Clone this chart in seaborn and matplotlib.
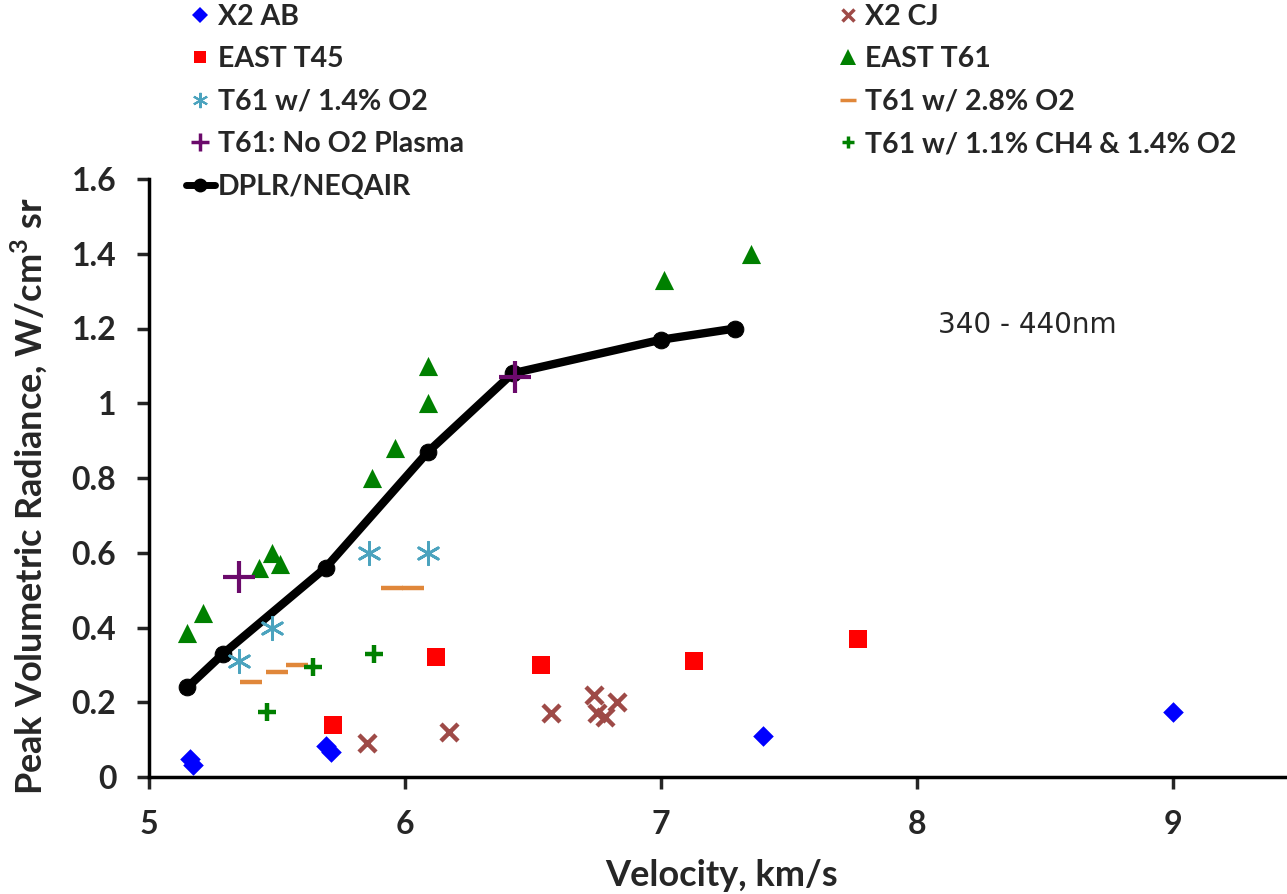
import matplotlib
matplotlib.use("Agg")
import matplotlib.pyplot as plt
import seaborn as sns
import numpy as np
from matplotlib.lines import Line2D

sns.set_style("white")
plt.rcParams['font.family'] = ['Lato', 'DejaVu Sans']
plt.rcParams['mathtext.fontset'] = 'custom'
plt.rcParams['mathtext.bf'] = 'Lato:bold'
plt.rcParams['mathtext.rm'] = 'Lato'

# ---- data ----
x2ab_v = [5.16, 5.17, 5.69, 5.71, 7.40, 9.00]
x2ab_r = [0.048, 0.032, 0.082, 0.067, 0.11, 0.175]

x2cj_v = [5.85, 6.17, 6.57, 6.74, 6.75, 6.78, 6.83]
x2cj_r = [0.09, 0.12, 0.17, 0.22, 0.17, 0.16, 0.20]

t45_v = [5.72, 6.12, 6.53, 7.13, 7.77]
t45_r = [0.14, 0.32, 0.30, 0.31, 0.37]

t61_v = [5.15, 5.21, 5.43, 5.48, 5.51, 5.87, 5.96, 6.09, 6.09, 7.01, 7.35]
t61_r = [0.385, 0.44, 0.56, 0.60, 0.57, 0.80, 0.88, 1.00, 1.10, 1.33, 1.40]

o14_v = [5.35, 5.48, 5.86, 6.09]
o14_r = [0.31, 0.40, 0.60, 0.60]

o28_v = [5.40, 5.50, 5.58, 5.95, 6.03]
o28_r = [0.255, 0.28, 0.30, 0.505, 0.505]

noo2_v = [5.35, 6.43]
noo2_r = [0.536, 1.07]

ch4_v = [5.46, 5.64, 5.88]
ch4_r = [0.175, 0.295, 0.33]

dplr_v = [5.15, 5.29, 5.69, 6.09, 6.42, 7.00, 7.29]
dplr_r = [0.24, 0.33, 0.56, 0.87, 1.08, 1.17, 1.20]

fig = plt.figure(figsize=(12.87, 8.94), dpi=100)
ax = fig.add_axes([149/1287, 1-777/894, 1-149/1287, (777-179)/894])

c_ab = "#0000FF"
c_cj = "#9E4A47"
c_t45 = "#FF0000"
c_t61 = "#008000"
c_o14 = "#4BA3BE"
c_o28 = "#E0873A"
c_no = "#6B0A6B"
c_ch4 = "#008000"

sns.lineplot(x=dplr_v, y=dplr_r, ax=ax, color="black", lw=6, marker="o",
             markersize=12, markeredgecolor="black", sort=False, zorder=2)
sns.scatterplot(x=x2ab_v, y=x2ab_r, ax=ax, marker="D", s=110, color=c_ab, linewidth=0, zorder=3)
sns.scatterplot(x=x2cj_v, y=x2cj_r, ax=ax, marker="x", s=150, color=c_cj, linewidth=3.2, zorder=3)
sns.scatterplot(x=t45_v, y=t45_r, ax=ax, marker="s", s=150, color=c_t45, linewidth=0, zorder=3)
sns.scatterplot(x=t61_v, y=t61_r, ax=ax, marker="^", s=190, color=c_t61, linewidth=0, zorder=3)
sns.scatterplot(x=o14_v, y=o14_r, ax=ax, marker=(6, 2, 0), s=260, color=c_o14, edgecolor=c_o14, linewidth=2, zorder=3)
sns.scatterplot(x=o28_v, y=o28_r, ax=ax, marker="_", s=250, color=c_o28, edgecolor=c_o28, linewidth=3.2, zorder=3)
sns.scatterplot(x=noo2_v, y=noo2_r, ax=ax, marker="+", s=560, color=c_no, edgecolor=c_no, linewidth=3, zorder=4)
sns.scatterplot(x=ch4_v, y=ch4_r, ax=ax, marker="+", s=170, color=c_ch4, edgecolor=c_ch4, linewidth=3.2, zorder=3)

ax.set_xlim(5, 5 + (1287-149)/256)
ax.set_ylim(0, 1.6)
ax.set_xticks([5, 6, 7, 8, 9])
ax.set_yticks([0, 0.2, 0.4, 0.6, 0.8, 1.0, 1.2, 1.4, 1.6])
ax.set_yticklabels(["0", "0.2", "0.4", "0.6", "0.8", "1", "1.2", "1.4", "1.6"])
for s in ["top", "right"]:
    ax.spines[s].set_visible(False)
for s in ["left", "bottom"]:
    ax.spines[s].set_linewidth(2.5)
    ax.spines[s].set_color("black")
ax.tick_params(axis="both", which="major", direction="out", length=8.5, width=2.5,
               labelsize=23, pad=15, bottom=True, left=True)
for lab in ax.get_xticklabels() + ax.get_yticklabels():
    lab.set_fontweight("bold")

ax.set_xlabel("Velocity, km/s", fontsize=26, fontweight="bold")
ax.set_ylabel("Peak Volumetric Radiance, W/cm$^\\mathbf{3}$ sr", fontsize=26, fontweight="bold")
ax.xaxis.set_label_coords(0.503, -0.137)
ax.yaxis.set_label_coords(-0.088, 0.47)

ax.text(8.43, 1.21, "340 - 440nm", fontsize=20, ha="center", va="center",
        family=["DejaVu Sans"])

def h(marker, color, ms, mew=0, ls="None", lw=0):
    return Line2D([], [], marker=marker, color=color, markersize=ms,
                  markeredgewidth=mew, markeredgecolor=color, linestyle=ls, linewidth=lw)

handles = [
    h("D", c_ab, 8),
    h("s", c_t45, 9),
    h((6, 2, 0), c_o14, 11, 1.5),
    h("+", c_no, 13, 2.5),
    h("o", "black", 10, 0, "-", 5),
    h("x", c_cj, 9, 2.5),
    h("^", c_t61, 11),
    h("_", c_o28, 11, 2.5),
    h("+", c_ch4, 9, 2.5),
]
hl = ["X2 AB", "EAST T45", "T61 w/ 1.4% O2", "T61: No O2 Plasma", "DPLR/NEQAIR",
      "X2 CJ", "EAST T61", "T61 w/ 2.8% O2", "T61 w/ 1.1% CH4 & 1.4% O2"]
leg = fig.legend(handles, hl, ncol=2, loc="upper left", bbox_to_anchor=(172/1287, 1.012),
                 frameon=False, prop={"size": 20.5, "weight": "bold"},
                 handlelength=1.0, handletextpad=0.1, labelspacing=0.58,
                 columnspacing=13.0, borderaxespad=0.1)

fig.savefig("out.png", dpi=100, facecolor="white")
